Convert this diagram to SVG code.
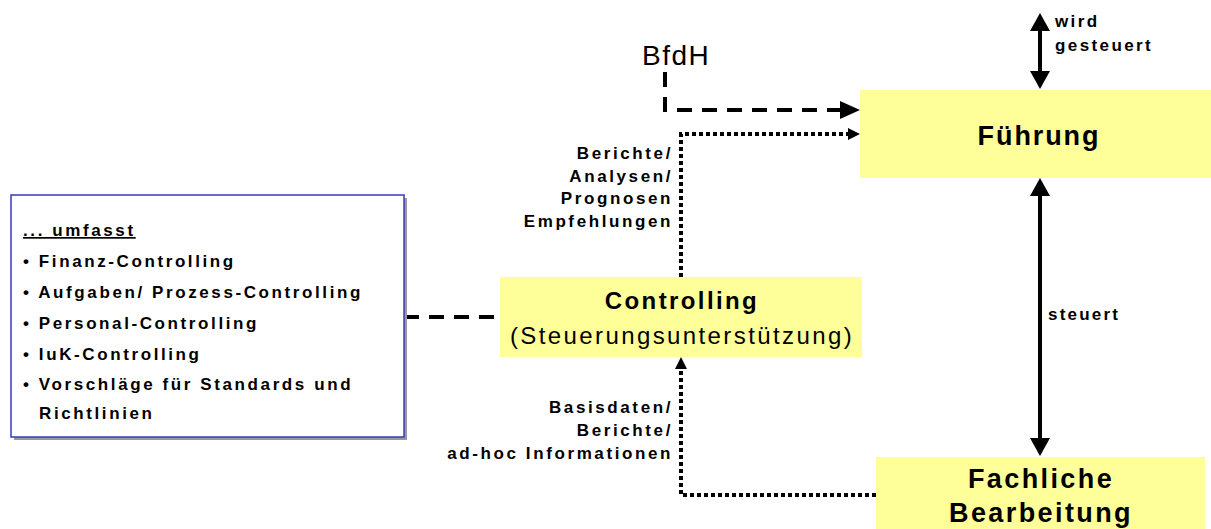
<svg xmlns="http://www.w3.org/2000/svg" width="1211" height="529" viewBox="0 0 1211 529">
<style>
text{font-family:"Liberation Sans",Arial,sans-serif;fill:#000}
.b{font-weight:bold}
.s{font-size:17px;letter-spacing:2.6px}
.big{font-size:27px;letter-spacing:2.4px}
.mid{font-size:24px;letter-spacing:2.4px}
.box{fill:#ffff99}
.dash{fill:none;stroke:#000;stroke-width:4;stroke-dasharray:15 10}
.dot{fill:none;stroke:#000;stroke-width:4;stroke-dasharray:4 3}
.solid{fill:none;stroke:#000;stroke-width:4}
</style>

<g id="connectors">
<path class="dash" d="M404,317 H500"/>
<path class="dash" d="M665,72 V110 H842"/>
<path d="M840,101 L860,110 L840,119 Z" fill="#000"/>
<path class="dot" d="M681,277 V134 H850"/>
<path d="M848,128 L860,134 L848,140 Z" fill="#000"/>
<path class="dot" d="M876,495 H681 V368"/>
<path d="M675,369 L681,357 L687,369 Z" fill="#000"/>
<path class="solid" d="M1040,28 V74"/>
<path d="M1030,31 L1040,13 L1050,31 Z" fill="#000"/>
<path d="M1030,71 L1040,89 L1050,71 Z" fill="#000"/>
<path class="solid" d="M1040,193 V441"/>
<path d="M1030,196 L1040,178 L1050,196 Z" fill="#000"/>
<path d="M1030,438 L1040,456 L1050,438 Z" fill="#000"/>
<text class="b s" x="1055" y="27" style="letter-spacing:2.4px">wird</text>
<text class="b s" x="1055" y="51" style="letter-spacing:2.4px">gesteuert</text>
<text class="b s" x="1048" y="320" style="letter-spacing:2.2px">steuert</text>
<text x="642" y="65" style="font-size:28px;letter-spacing:1.5px">BfdH</text>
<g class="b s" text-anchor="end">
<text x="673" y="159">Berichte/</text>
<text x="673" y="182">Analysen/</text>
<text x="673" y="204">Prognosen</text>
<text x="673" y="227">Empfehlungen</text>
<text x="673" y="413">Basisdaten/</text>
<text x="673" y="436">Berichte/</text>
<text x="673" y="459">ad-hoc Informationen</text>
</g>
</g>

<g id="list-box">
<rect x="14" y="198" width="393" height="242" fill="#999"/>
<rect x="11" y="195" width="393" height="242" fill="#fff" stroke="#3838c8" stroke-width="1.5"/>
<g class="b s">
<text x="23" y="236" text-decoration="underline">... umfasst</text>
<text x="23" y="267">• Finanz-Controlling</text>
<text x="23" y="298">• Aufgaben/ Prozess-Controlling</text>
<text x="23" y="329">• Personal-Controlling</text>
<text x="23" y="360">• IuK-Controlling</text>
<text x="23" y="390">• Vorschläge für Standards und</text>
<text x="39" y="419">Richtlinien</text>
</g>
</g>

<g id="controlling">
<rect class="box" x="500" y="277" width="362" height="80"/>
<text class="b mid" x="682" y="309" text-anchor="middle">Controlling</text>
<text class="mid" x="682" y="344" text-anchor="middle">(Steuerungsunterstützung)</text>
</g>

<g id="fuehrung">
<rect class="box" x="860" y="90" width="351" height="88"/>
<text class="b big" x="1039" y="145" text-anchor="middle" style="letter-spacing:1.9px">Führung</text>
</g>

<g id="fachliche-bearbeitung">
<rect class="box" x="876" y="457" width="329" height="72"/>
<text class="b big" x="1041" y="488" text-anchor="middle">Fachliche</text>
<text class="b big" x="1041" y="522" text-anchor="middle">Bearbeitung</text>
</g>
</svg>
